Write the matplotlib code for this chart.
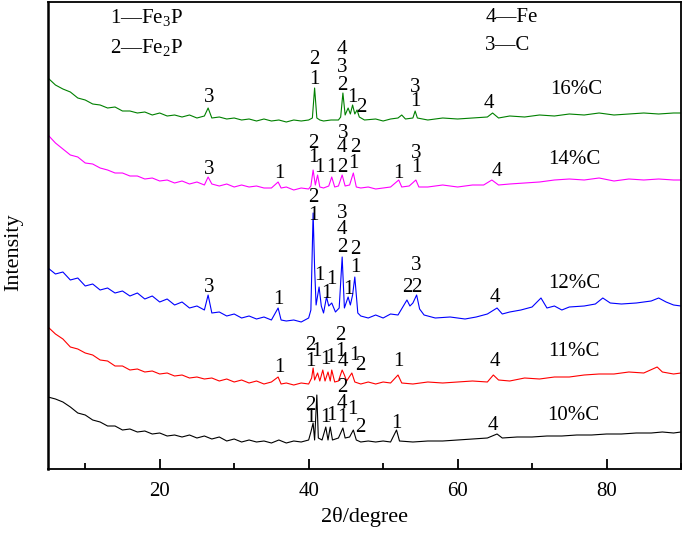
import matplotlib
matplotlib.use("Agg")
import matplotlib.pyplot as plt
from matplotlib.ticker import MultipleLocator

plt.rcParams['font.family'] = ['Liberation Serif', 'DejaVu Serif']
plt.rcParams['mathtext.fontset'] = 'custom'
plt.rcParams['mathtext.rm'] = 'Liberation Serif'

# ---------------- data (2theta in degrees, intensity in a.u., stacked) ----------------
tt_16 = [5,6,7,8,9,10,11,12,13,14,15,16,17,18,19,20,21,22,23,24,25,26,26.5,27,28,29,30,31,32,33,34,35,36,37,38,39,40,
         40.5,40.8,41.1,41.5,42,43,44,44.3,44.6,44.9,45.3,45.6,45.9,46.2,46.5,46.8,47.5,49,50,51,52,52.5,53,54,54.3,54.6,
         56,58,60,62,64,64.7,65.5,67,69,71,73,75,77,79,81,83,85,87,89,90]
int_16 = [392,385,381,378,372,370,366,365,362,363,359,359,357,358,355,357,354,355,353,355,352,354,362,
          352,353,351,352,350,351,349,351,349,350,348,350,349,350,
          352,382,352,350,349,350,350,353,377,355,362,356,365,356,360,353,350,351,349,351,352,
          355,351,352,359,352,350,352,351,352,353,357,352,
          354,353,355,354,356,355,357,355,356,357,356,357,357]

tt_14 = [5,6,7,8,9,10,11,12,13,14,15,16,17,18,19,20,21,22,23,24,25,26,26.5,27,28,29,30,31,32,33,34,35,35.9,36.3,
         37,38,39,40,40.3,40.6,40.9,41.2,41.5,42,42.7,43.1,43.5,44,44.5,44.9,45.5,46.0,46.4,47,48,49,50,51,
         52.1,52.5,53.5,54.4,54.8,56,58,60,62,63.5,64.6,65.5,67,69,71,73,75,77,79,81,83,85,87,89,90]
int_14 = [335,327,321,315,313,307,306,302,300,297,297,294,294,291,292,289,290,287,289,286,288,285,
          293,
          286,284,286,283,285,283,284,282,282,
          288,282,
          283,280,282,281,
          284,300,285,295,283,282,
          284,293,283,284,295,284,285,297,283,
          282,283,281,282,283,
          290,283,284,290,283,
          283,285,283,285,285,
          290,285,
          286,287,288,290,291,290,292,289,291,290,291,290,
          290]

tt_12 = [5,6,7,8,9,10,11,12,13,14,15,16,17,18,19,20,21,22,23,24,25,26,26.5,27,28,29,30,31,32,33,34,35,35.9,36.3,
         37,38,39,40,40.3,40.6,40.8,41.0,41.4,41.7,42.0,42.4,42.7,43.1,43.6,44.1,44.5,44.8,45.3,45.6,45.9,46.2,46.6,
         47,48,49,50,51,52,52.8,53.2,53.6,54.0,54.5,54.9,55.5,57,59,61,62.5,64,65.3,66,67,68.5,70,
         71.2,72,73,74,75,77,78.5,79.5,80.5,82,84,86,87,88,89,90]
int_12 = [202,196,198,190,192,184,186,180,182,177,179,174,177,171,174,168,171,165,168,162,164,160,
          175,
          157,158,154,156,152,154,151,153,150,
          162,150,
          149,150,148,152,
          160,257,202,165,183,164,157,173,164,167,158,162,213,162,173,165,175,193,157,
          154,152,155,152,156,155,
          165,170,164,167,175,161,155,
          152,153,151,153,156,
          162,156,158,160,163,
          172,162,164,160,163,
          164,166,172,167,166,167,169,172,168,165,164]

tt_11 = [5,6,7,8,9,10,11,12,13,14,15,16,17,18,19,20,21,22,23,24,25,26,27,28,29,30,31,32,33,34,35,35.9,36.3,
         37,38,39,40,40.4,40.6,40.8,41.2,41.5,41.9,42.2,42.6,42.9,43.1,43.5,44,44.5,44.8,45.1,45.8,46.2,
         47,48,49,50,51,52.0,52.5,54,56,58,60,62,64,64.8,65.5,67,69,71,73,75,77,79,81,83,85,86.8,87.5,89,90]
int_11 = [143,136,131,123,121,117,115,110,109,104,104,100,101,98,99,96,97,94,95,92,93,91,92,89,91,88,90,87,89,86,88,
          93,86,
          87,85,87,86,
          92,102,90,97,89,100,89,98,89,100,88,89,100,95,89,97,88,
          86,88,86,88,87,
          95,87,
          86,88,87,88,89,88,
          95,90,
          89,92,91,93,93,95,96,96,98,97,
          103,98,96,97]

tt_10 = [5,6,7,8,9,10,11,12,13,14,15,16,17,18,19,20,21,22,23,24,25,26,27,28,29,30,31,32,33,34,35,36,37,38,39,40,
         40.3,40.6,40.8,41.1,41.3,41.8,42.3,42.6,42.9,43.2,44,44.6,44.9,45.5,46.0,46.4,
         47,48,49,50,51,51.8,52.2,54,56,58,60,62,64,65.3,66,68,70,72,74,76,78,80,82,84,86,87.5,89,90]
int_10 = [73,71,68,63,57,55,50,48,44,44,40,41,38,39,36,37,34,35,33,35,32,34,31,33,29,31,28,30,28,29,27,30,27,29,28,30,
          38,47,30,75,32,30,43,30,43,30,32,42,32,33,40,30,
          28,29,28,29,28,
          40,29,
          28,29,29,30,31,32,
          36,
          32,33,33,34,34,35,35,36,36,37,37,
          38,37,38]

series_names = ['16%C', '14%C', '12%C', '11%C', '10%C']
series_colors = ['#008000', '#ff00ff', '#0000ff', '#ff0000', '#000000']
series_tt = [tt_16, tt_14, tt_12, tt_11, tt_10]
series_int = [int_16, int_14, int_12, int_11, int_10]

# phase labels: (2theta, height, phase number)
lab_16 = [(26.7, 372, '3'), (40.8, 410, '2'), (40.8, 390, '1'), (44.5, 420, '4'), (44.5, 402, '3'),
          (44.5, 385, '2'), (45.9, 373, '1'), (47.1, 362, '2'), (54.3, 383, '3'), (54.3, 368, '1'),
          (64.2, 366, '4')]
lab_14 = [(26.7, 301, '3'), (36.1, 297, '1'), (40.6, 327, '2'), (40.6, 313, '1'), (41.5, 302, '1'),
          (43.1, 303, '1'), (44.7, 337, '3'), (44.5, 322, '4'), (46.2, 323, '2'), (44.5, 303, '2'),
          (46.0, 307, '1'), (52.1, 297, '1'), (54.5, 317, '3'), (54.5, 303, '1'), (65.3, 298, '4')]
lab_12 = [(26.7, 183, '3'), (35.9, 170, '1'), (40.6, 272, '2'), (40.6, 255, '1'), (41.5, 195, '1'),
          (42.4, 177, '1'), (43.1, 190, '1'), (44.5, 257, '3'), (44.5, 240, '4'), (44.5, 223, '2'),
          (45.3, 180, '1'), (46.3, 220, '2'), (46.3, 202, '1'), (53.2, 182, '2'), (54.5, 183, '2'),
          (54.5, 205, '3'), (65.0, 173, '4')]
lab_11 = [(36.1, 103, '1'), (40.2, 125, '2'), (40.2, 108, '1'), (41.0, 118, '1'), (42.2, 110, '1'),
          (42.9, 113, '1'), (44.2, 135, '2'), (44.2, 118, '1'), (44.6, 108, '4'), (46.1, 115, '1'),
          (46.9, 105, '2'), (52.0, 108, '1'), (65.0, 108, '4')]
lab_10 = [(40.2, 65, '2'), (40.2, 52, '1'), (42.2, 52, '1'), (43.1, 55, '1'), (44.5, 82, '2'),
          (44.5, 67, '4'), (44.5, 52, '1'), (45.9, 60, '1'), (46.9, 42, '2'), (51.8, 47, '1'),
          (64.7, 45, '4')]
series_labels = [lab_16, lab_14, lab_12, lab_11, lab_10]
name_pos = [(72.4, 380), (72.2, 311), (72.2, 187), (72.2, 118), (72.0, 55)]

legend_left = [(13.3, 452, '1—Fe$\\mathregular{_3}$P'), (13.3, 423, '2—Fe$\\mathregular{_2}$P')]
legend_right = [(63.7, 452, '4—Fe'), (63.7, 425, '3—C')]

# ---------------- figure ----------------
fig = plt.figure(figsize=(6.85, 5.33), dpi=100)
ax = fig.add_axes([48/685, 64/533, 633/685, 467/533])

for tt, inten, col in zip(series_tt, series_int, series_colors):
    ax.plot(tt, inten, color=col, lw=0.8)

for labs in series_labels:
    for x, y, t in labs:
        ax.text(x, y, t, ha='center', va='center', fontsize=15, color='black')

for (x, y), name in zip(name_pos, series_names):
    ax.text(x, y, name, ha='left', va='center', fontsize=15)

for x, y, t in legend_left + legend_right:
    ax.text(x, y, t, ha='left', va='center', fontsize=15)

ax.set_xlim(5, 90)
ax.set_ylim(1, 468)
ax.xaxis.set_major_locator(MultipleLocator(20))
ax.xaxis.set_minor_locator(MultipleLocator(10))
ax.tick_params(axis='x', which='major', direction='in', length=7, width=1.3, labelsize=15, pad=9, top=False)
ax.tick_params(axis='x', which='minor', direction='in', length=4, width=1.3, top=False)
ax.set_yticks([])
for s in ax.spines.values():
    s.set_linewidth(1.3)
ax.spines['left'].set_linewidth(1.8)

ax.set_xlabel('2θ/degree', fontsize=16, va='center')
ax.set_ylabel('Intensity', fontsize=16, va='center')
ax.xaxis.set_label_coords((365 - 48) / 633, (469 - 517) / 467)
ax.yaxis.set_label_coords((14 - 48) / 633, (469 - 252) / 467)

fig.savefig('out.png', dpi=100)
